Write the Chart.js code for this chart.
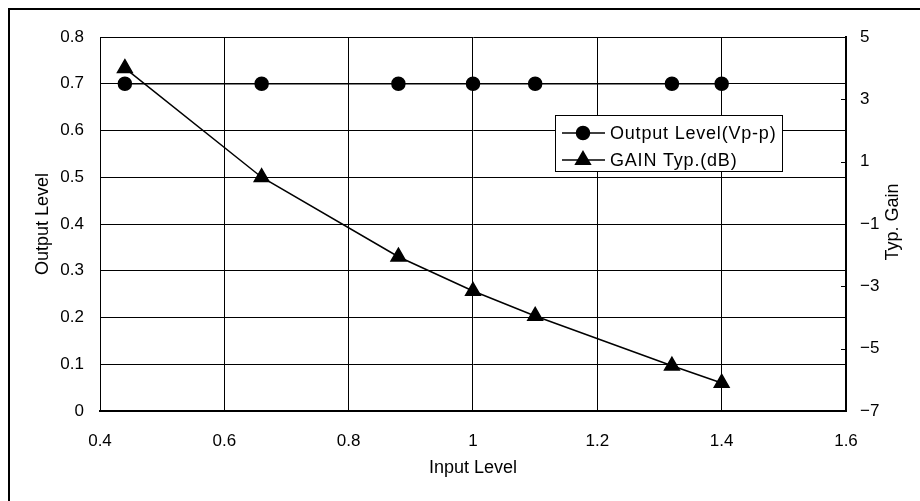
<!DOCTYPE html>
<html>
  <head>
    <title>Output Level / Gain vs Input Level</title>
    <script src="https://cdn.jsdelivr.net/npm/chart.js@4.4.1/dist/chart.umd.min.js"></script>
    <style>
      html, body { margin: 0; padding: 0; background: #fff; }
      #wrap { width: 920px; height: 501px; }
    </style>
  </head>
  <body>
    <div id="wrap"><canvas id="myChart" width="920" height="501"></canvas></div>
  </body>
  <script>
    const inputLevel = [0.44, 0.66, 0.88, 1.0, 1.1, 1.32, 1.4]
    const outputLevel = [0.7, 0.7, 0.7, 0.7, 0.7, 0.7, 0.7]
    const gainTyp = [4.0, 0.5, -2.05, -3.15, -3.95, -5.55, -6.1]
    const seriesNames = ['Output Level(Vp-p)', 'GAIN Typ.(dB)']
    const rightTitle = 'Typ. Gain'

    const FONT = "'Liberation Sans', Arial, sans-serif"

    // outer frame of the sheet + right axis title (reads bottom to top)
    const frame = {
      id: 'frame',
      beforeDraw(chart) {
        const { ctx } = chart
        ctx.save()
        ctx.fillStyle = '#fff'
        ctx.fillRect(0, 0, chart.width, chart.height)
        ctx.strokeStyle = '#000'
        ctx.lineWidth = 2
        ctx.strokeRect(9, 9, chart.width + 20, chart.height + 20)
        ctx.restore()
      },
      afterDraw(chart) {
        const { ctx, chartArea } = chart
        const y1 = chart.scales.y1
        ctx.save()
        // small inward tick marks on the right axis
        ctx.strokeStyle = '#000'
        ctx.lineWidth = 1
        y1.ticks.forEach(t => {
          const py = Math.round(y1.getPixelForValue(t.value)) + 0.5
          ctx.beginPath()
          ctx.moveTo(chartArea.right - 5, py)
          ctx.lineTo(chartArea.right, py)
          ctx.stroke()
        })
        ctx.translate(893, (chartArea.top + chartArea.bottom) / 2 - 2)
        ctx.rotate(-Math.PI / 2)
        ctx.fillStyle = '#000'
        ctx.font = '18px ' + FONT
        ctx.textAlign = 'center'
        ctx.textBaseline = 'middle'
        ctx.fillText(rightTitle, 0, 0)
        ctx.restore()
      },
    }

    // boxed legend sitting inside the plot, like the Excel one
    const boxLegend = {
      id: 'boxLegend',
      afterDraw(chart, args, opts) {
        const { ctx } = chart
        const x0 = opts.x, y0 = opts.y, w = opts.w, h = opts.h
        ctx.save()
        ctx.fillStyle = '#fff'
        ctx.fillRect(x0, y0, w, h)
        ctx.strokeStyle = '#000'
        ctx.lineWidth = 1
        ctx.strokeRect(x0 + 0.5, y0 + 0.5, w, h)
        chart.data.datasets.forEach((ds, i) => {
          const cy = y0 + 18 + i * 27
          ctx.strokeStyle = '#000'
          ctx.fillStyle = '#000'
          ctx.beginPath()
          ctx.moveTo(x0 + 7, cy)
          ctx.lineTo(x0 + 50, cy)
          ctx.lineWidth = 1.5
          ctx.stroke()
          Chart.helpers.drawPoint(ctx, {
            pointStyle: ds.pointStyle, radius: ds.pointRadius, borderWidth: 1,
          }, x0 + 28, cy)
          ctx.fillStyle = '#000'
          ctx.font = '18px ' + FONT
          ctx.letterSpacing = '0.8px'
          ctx.textBaseline = 'middle'
          ctx.fillText(ds.label, x0 + 55, cy + 1)
        })
        ctx.restore()
      },
    }

    const ctx = document.getElementById('myChart').getContext('2d')
    const myChart = new Chart(ctx, {
      type: 'scatter',
      data: {
        datasets: [
          {
            label: seriesNames[0],
            data: inputLevel.map((x, i) => ({ x: x, y: outputLevel[i] })),
            showLine: true,
            borderColor: '#000',
            backgroundColor: '#000',
            borderWidth: 1.5,
            pointStyle: 'circle',
            pointRadius: 6.5,
            yAxisID: 'y',
          },
          {
            label: seriesNames[1],
            data: inputLevel.map((x, i) => ({ x: x, y: gainTyp[i] })),
            showLine: true,
            borderColor: '#000',
            backgroundColor: '#000',
            borderWidth: 1.5,
            pointStyle: 'triangle',
            pointRadius: 8.5,
            yAxisID: 'y1',
          },
        ],
      },
      options: {
        responsive: false,
        animation: false,
        layout: { padding: { top: 37, left: 0, right: 0, bottom: 0 } },
        scales: {
          x: {
            type: 'linear',
            min: 0.4,
            max: 1.6,
            afterFit(s) { s.height = 90 },
            ticks: {
              stepSize: 0.2,
              color: '#000',
              padding: 20,
              font: { family: FONT, size: 17 },
              callback: v => +v.toFixed(1),
            },
            grid: { color: '#000', lineWidth: 1, drawTicks: false },
            border: { color: '#000', width: 2 },
            title: {
              display: true,
              text: 'Input Level',
              color: '#000',
              font: { family: FONT, size: 18 },
              padding: { top: 0, bottom: 22 },
            },
          },
          y: {
            position: 'left',
            min: 0,
            max: 0.8,
            afterFit(s) { s.width = 100 },
            ticks: {
              stepSize: 0.1,
              color: '#000',
              padding: 16,
              font: { family: FONT, size: 17 },
              callback: v => +v.toFixed(1),
            },
            grid: { color: '#000', lineWidth: 1, drawTicks: false },
            border: { color: '#000', width: 1 },
            title: {
              display: true,
              text: 'Output Level',
              color: '#000',
              font: { family: FONT, size: 18 },
              padding: { top: 32, bottom: 0 },
            },
          },
          y1: {
            position: 'right',
            min: -7,
            max: 5,
            afterFit(s) { s.width = 74 },
            ticks: {
              stepSize: 2,
              color: '#000',
              padding: 14,
              font: { family: FONT, size: 17 },
              callback: v => String(v).replace('-', '\u2212'),
            },
            grid: { drawOnChartArea: false, drawTicks: false },
            border: { color: '#000', width: 2 },
            title: { display: false },
          },
        },
        plugins: {
          legend: { display: false },
          tooltip: { enabled: false },
          boxLegend: { x: 555, y: 115, w: 227, h: 56 },
        },
      },
      plugins: [frame, boxLegend],
    })
  </script>
</html>
